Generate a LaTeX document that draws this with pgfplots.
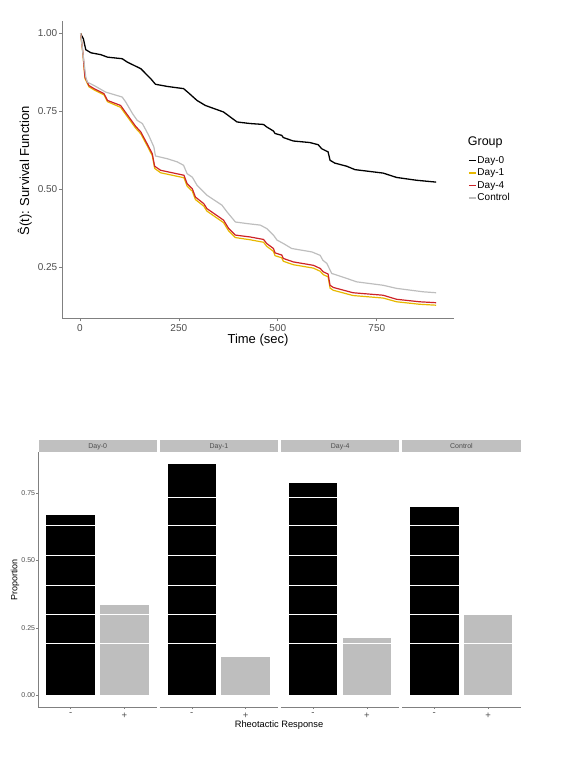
\documentclass[border=0pt]{standalone}
\usepackage{fontspec}
\setmainfont{Liberation Sans}
\usepackage{pgfplots}
\pgfplotsset{compat=1.18}
\definecolor{dayone}{RGB}{231,184,0}
\definecolor{dayfour}{RGB}{205,35,40}
\definecolor{ctrl}{RGB}{190,190,190}
\definecolor{bargray}{RGB}{190,190,190}
\definecolor{stripgray}{RGB}{192,192,192}
\definecolor{axgray}{RGB}{128,128,128}
\definecolor{tickgray}{RGB}{77,77,77}
\newcommand\whitelines{\draw[white, line width=0.6pt]
 (axis cs:0.5,0.194) -- (axis cs:2.5,0.194)
 (axis cs:0.5,0.300) -- (axis cs:2.5,0.300)
 (axis cs:0.5,0.409) -- (axis cs:2.5,0.409)
 (axis cs:0.5,0.517) -- (axis cs:2.5,0.517)
 (axis cs:0.5,0.628) -- (axis cs:2.5,0.628)
 (axis cs:0.5,0.734) -- (axis cs:2.5,0.734);}
\pgfplotsset{
 panel/.style={anchor=south west, scale only axis, width=118.5pt, height=254.7pt,
  xmin=0.4, xmax=2.6, ymin=-0.04286, ymax=0.9,
  ybar, bar width=0.9, bar shift=0pt,
  axis x line*=bottom, axis line style={-, draw=axgray, line width=0.6pt},
  xtick={1,2}, xticklabels={-,+},
  tick align=outside, major tick length=2pt, tick style={draw=axgray, line width=0.5pt},
  xticklabel style={font=\fontsize{9.5}{10}\selectfont, text=tickgray},
  yticklabel style={font=\fontsize{7}{8}\selectfont, text=tickgray, inner sep=1pt},
  /pgf/number format/assume math mode=true,
 },
 noy/.style={axis y line=none, ytick=\empty},
}
\tikzset{
 strip/.style={anchor=south west, fill=stripgray, minimum width=118.5pt,
  minimum height=12.3pt, inner sep=0pt, text height=5pt, text depth=0pt,
  font=\fontsize{7}{8}\selectfont, text=tickgray},
}
\begin{document}
\begin{tikzpicture}[x=1pt,y=1pt]
\useasboundingbox (0,0) rectangle (570,757);
% ---------------- survival curves ----------------
\begin{axis}[at={(62pt,438.7pt)}, anchor=south west, scale only axis,
 width=392pt, height=297.6pt,
 xmin=-45, xmax=945, ymin=0.085, ymax=1.04,
 axis lines*=left, axis line style={-, draw=axgray, line width=0.7pt},
 xtick={0,250,500,750}, xticklabels={0,250,500,750},
 ytick={0.25,0.5,0.75,1}, yticklabels={0.25,0.50,0.75,1.00},
 tick align=outside, major tick length=3pt, tick style={draw=axgray, line width=0.6pt},
 ticklabel style={font=\fontsize{10}{12}\selectfont, text=tickgray},
 yticklabel style={inner sep=1.5pt},
 /pgf/number format/assume math mode=true,
 legend cell align=left,
 legend image code/.code={\draw[#1, line width=1.3pt] (0pt,0pt) -- (7pt,0pt);},
 legend style={at={(1.0357,0.5507)}, anchor=north west, draw=none, fill=none,
  inner sep=0pt, row sep=0.5pt, font=\fontsize{10}{11}\selectfont,
  nodes={text height=7.5pt, text depth=2.5pt, inner sep=1pt}},
]
\addplot[black, line width=1.3pt] coordinates {
(2,1.000) (3,0.996) (9,0.982) (15,0.947) (28,0.937) (53,0.931) (70,0.923)
(107,0.918) (120,0.907) (154,0.886) (179,0.854) (191,0.836) (221,0.829)
(262,0.822) (275,0.808) (296,0.784) (317,0.768) (363,0.747) (397,0.715)
(430,0.710) (464,0.707) (472,0.699) (489,0.686) (493,0.678) (510,0.672)
(514,0.665) (539,0.654) (581,0.649) (602,0.642) (611,0.629) (627,0.619)
(632,0.592) (644,0.583) (674,0.573) (695,0.562) (766,0.551) (800,0.537)
(850,0.528) (883,0.524) (900,0.522)};
\addlegendentry{Day-0}
\addplot[dayone, line width=1.2pt] coordinates {
(2,1.000) (3,0.988) (8,0.930) (13,0.855) (23,0.828) (36,0.818) (61,0.802)
(70,0.780) (103,0.762) (112,0.746) (124,0.725) (141,0.695) (154,0.677)
(170,0.639) (183,0.607) (189,0.566) (204,0.552) (263,0.536) (271,0.509)
(284,0.493) (292,0.466) (313,0.445) (321,0.429) (363,0.392) (376,0.365)
(393,0.344) (430,0.337) (464,0.329) (472,0.316) (489,0.300) (493,0.286)
(510,0.279) (514,0.268) (539,0.257) (590,0.246) (607,0.236) (615,0.225)
(627,0.218) (632,0.182) (640,0.175) (690,0.158) (766,0.150) (800,0.138)
(858,0.130) (900,0.127)};
\addlegendentry{Day-1}
\addplot[dayfour, line width=1.2pt] coordinates {
(2,1.000) (3,0.990) (8,0.935) (13,0.859) (23,0.832) (36,0.822) (61,0.806)
(70,0.784) (103,0.768) (112,0.752) (124,0.731) (141,0.701) (154,0.683)
(170,0.645) (183,0.613) (189,0.573) (204,0.560) (263,0.544) (271,0.517)
(284,0.501) (292,0.474) (313,0.453) (321,0.437) (363,0.400) (376,0.373)
(393,0.352) (430,0.346) (464,0.338) (472,0.325) (489,0.309) (493,0.295)
(510,0.288) (514,0.277) (539,0.266) (590,0.255) (607,0.245) (615,0.234)
(627,0.227) (632,0.191) (640,0.184) (690,0.167) (766,0.159) (800,0.146)
(858,0.138) (900,0.135)};
\addlegendentry{Day-4}
\addplot[ctrl, line width=1.2pt] coordinates {
(2,1.000) (3,0.990) (7,0.945) (15,0.860) (19,0.843) (36,0.832) (65,0.811)
(107,0.795) (116,0.779) (133,0.742) (145,0.720) (158,0.710) (174,0.672)
(187,0.635) (191,0.606) (221,0.597) (246,0.587) (262,0.576) (271,0.549)
(284,0.538) (296,0.512) (321,0.480) (359,0.448) (372,0.426) (393,0.394)
(422,0.389) (456,0.384) (472,0.373) (489,0.352) (498,0.336) (514,0.325)
(535,0.309) (586,0.298) (607,0.287) (614,0.271) (624,0.261) (636,0.229)
(674,0.213) (699,0.202) (766,0.191) (800,0.181) (867,0.170) (900,0.167)};
\addlegendentry{Control}
\end{axis}
\node[font=\fontsize{13}{15}\selectfont] at (258,417) {Time (sec)};
\node[font=\fontsize{13}{15}\selectfont, rotate=90] at (24.7,586) {Ŝ(t): Survival Function};
\node[font=\fontsize{12.5}{14}\selectfont, anchor=west, inner sep=0pt] at (467.7,614.3) {Group};
% ---------------- facet bar chart ----------------
\begin{axis}[panel, at={(38.3pt,50pt)},
 axis y line*=left, ytick={0,0.25,0.5,0.75}, yticklabels={0.00,0.25,0.50,0.75}]
\addplot[fill=black, draw=none] coordinates {(1,0.667)};
\addplot[fill=bargray, draw=none] coordinates {(2,0.333)};
\whitelines
\end{axis}
\begin{axis}[panel, noy, at={(159.5pt,50pt)}]
\addplot[fill=black, draw=none] coordinates {(1,0.857)};
\addplot[fill=bargray, draw=none] coordinates {(2,0.143)};
\whitelines
\end{axis}
\begin{axis}[panel, noy, at={(280.7pt,50pt)}]
\addplot[fill=black, draw=none] coordinates {(1,0.786)};
\addplot[fill=bargray, draw=none] coordinates {(2,0.214)};
\whitelines
\end{axis}
\begin{axis}[panel, noy, at={(402pt,50pt)}]
\addplot[fill=black, draw=none] coordinates {(1,0.697)};
\addplot[fill=bargray, draw=none] coordinates {(2,0.303)};
\whitelines
\end{axis}
\node[strip] at (38.3,304.7) {Day-0};
\node[strip] at (159.5,304.7) {Day-1};
\node[strip] at (280.7,304.7) {Day-4};
\node[strip] at (402,304.7) {Control};
\node[font=\fontsize{9}{10}\selectfont, rotate=90] at (15,177) {Proportion};
\node[font=\fontsize{9.3}{10}\selectfont] at (279,32) {Rheotactic Response};
\end{tikzpicture}
\end{document}
